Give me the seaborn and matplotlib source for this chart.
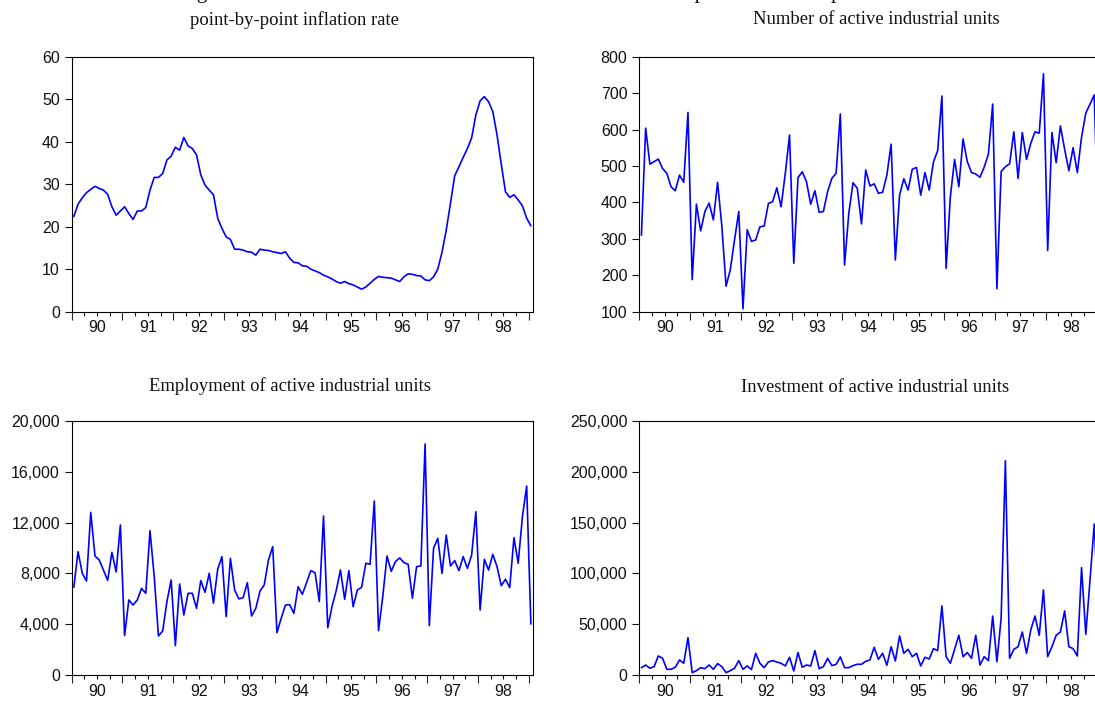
import numpy as np
import pandas as pd
import matplotlib
matplotlib.use("Agg")
import matplotlib.pyplot as plt
import seaborn as sns
from matplotlib.ticker import FixedLocator, FixedFormatter, FuncFormatter, NullFormatter

# Monthly observations, 1990M01 .. 1999M01
year_labels = ["90", "91", "92", "93", "94", "95", "96", "97", "98"]

inflation = [
    22.4, 25.3, 26.8, 28.0, 28.8, 29.5, 29.0, 28.6, 27.6, 24.7,
    22.7, 23.7, 24.7, 23.1, 21.7, 23.7, 23.7, 24.5, 28.6, 31.6,
    31.6, 32.5, 35.7, 36.6, 38.7, 38.0, 41.0, 39.0, 38.4, 36.9,
    32.2, 29.8, 28.6, 27.5, 22.0, 19.6, 17.6, 17.0, 14.7, 14.7,
    14.5, 14.1, 14.0, 13.3, 14.7, 14.5, 14.4, 14.1, 13.9, 13.7,
    14.1, 12.6, 11.6, 11.5, 10.8, 10.7, 10.0, 9.6, 9.2, 8.6,
    8.2, 7.7, 7.1, 6.7, 7.1, 6.6, 6.3, 5.8, 5.3, 5.8,
    6.7, 7.6, 8.3, 8.1, 8.0, 7.9, 7.5, 7.1, 8.2, 8.9,
    8.8, 8.5, 8.4, 7.5, 7.3, 8.2, 10.0, 14.0, 19.2, 25.5,
    32.0, 34.1, 36.3, 38.4, 40.9, 46.3, 49.6, 50.6, 49.4, 47.1,
    41.6, 34.7, 28.2, 26.9, 27.5, 26.3, 24.9, 22.0, 20.2,
]

active_units = [
    310, 604, 505, 512, 519, 493, 480, 443, 432, 475,
    455, 647, 188, 395, 322, 375, 398, 352, 455, 335,
    170, 215, 297, 375, 108, 325, 293, 297, 333, 335,
    397, 402, 440, 388, 480, 585, 233, 468, 484, 457,
    395, 432, 373, 375, 430, 466, 480, 643, 228, 370,
    454, 439, 341, 489, 445, 451, 425, 428, 475, 560,
    242, 420, 465, 434, 491, 496, 420, 482, 434, 511,
    542, 692, 219, 416, 518, 443, 574, 512, 482, 478,
    469, 497, 533, 670, 163, 485, 498, 506, 594, 466,
    592, 518, 562, 594, 590, 753, 268, 592, 509, 610,
    546, 487, 550, 482, 579, 645, 670, 695, 300,
]

employment = [
    6910, 9710, 8010, 7410, 12800, 9370, 9060, 8270, 7460, 9660,
    8120, 11810, 3120, 5920, 5520, 5920, 6830, 6440, 11360, 7750,
    3090, 3480, 5790, 7490, 2330, 7170, 4740, 6440, 6440, 5260,
    7440, 6520, 8010, 5660, 8330, 9320, 4610, 9190, 6700, 6000,
    6100, 7280, 4660, 5260, 6620, 7100, 9060, 10110, 3350, 4480,
    5520, 5550, 4870, 6960, 6360, 7280, 8220, 8060, 5790, 12510,
    3740, 5390, 6650, 8270, 5970, 8220, 5390, 6700, 6910, 8800,
    8720, 13690, 3510, 6180, 9370, 8170, 8930, 9220, 8850, 8720,
    6050, 8540, 8590, 18170, 3900, 9980, 10760, 8010, 11020, 8590,
    9010, 8220, 9320, 8400, 9450, 12850, 5130, 9110, 8270, 9500,
    8540, 7040, 7540, 6890, 10810, 8800, 12460, 14870, 4030,
]

investment = [
    7500, 10100, 6900, 8500, 19000, 16700, 5900, 5900, 7900, 15100,
    11800, 37000, 2600, 4600, 7500, 6500, 10100, 5900, 11500, 8500,
    2600, 4600, 6900, 14400, 5900, 9200, 5600, 21600, 11800, 7500,
    13100, 14400, 13100, 11800, 9200, 17700, 4300, 22300, 7900, 10100,
    9200, 24200, 6500, 8500, 16700, 9500, 10800, 18000, 7500, 7500,
    9500, 10800, 10800, 13700, 15100, 27500, 15700, 21600, 9800, 28100,
    14100, 38600, 21600, 25500, 18300, 21600, 9200, 17700, 16000, 26200,
    24200, 68100, 18300, 11800, 25500, 39300, 18300, 22300, 16700, 39300,
    10100, 18300, 14400, 58200, 13400, 56000, 210700, 16700, 25500, 28100,
    42500, 21600, 44500, 58200, 39300, 83800, 18300, 28100, 39300, 42500,
    63200, 28100, 26200, 19000, 105700, 40200, 93600, 148500, 60000,
]

titles = [
    "point-by-point inflation rate",
    "Number of active industrial units",
    "Employment of active industrial units",
    "Investment of active industrial units",
]

sns.set_style("ticks")
plt.rcParams["font.family"] = ["Liberation Sans", "DejaVu Sans"]

W, H = 1095, 701
fig = plt.figure(figsize=(W / 100, H / 100), dpi=100)


def box(left, top, right, bottom):
    return [left / W, 1 - bottom / H, (right - left) / W, (bottom - top) / H]


n = len(inflation)
months = pd.period_range("1990-01", periods=n, freq="M")
frame = pd.DataFrame({
    "t": np.arange(n),
    "month": months.astype(str),
    "inflation": inflation,
    "active_units": active_units,
    "employment": employment,
    "investment": investment,
})

panels = [
    ("inflation", box(71.7, 56.7, 533.0, 311.7), (0, 60, 10), (294, 20)),
    ("active_units", box(639.3, 56.7, 1100.6, 311.7), (100, 800, 100), (876, 20)),
    ("employment", box(71.7, 420.7, 533.0, 675.3), (0, 20000, 4000), (290, 386)),
    ("investment", box(639.3, 420.7, 1100.6, 675.3), (0, 250000, 50000), (875, 388)),
]

year_edges = np.arange(-0.5, n - 1, 12)
quarter_pos = [e + q for e in year_edges[:-1] for q in (3, 6, 9)]
quarter_lab = [lab for y in year_labels for lab in ("", y, "")]

for (col, rect, (lo, hi, step), (tx, ty)), title in zip(panels, titles):
    ax = fig.add_axes(rect)
    sns.lineplot(data=frame, x="t", y=col, ax=ax, color="#0000FF", linewidth=1.2)
    ax.set_xlim(-0.5, n - 0.5)
    ax.set_ylim(lo, hi)
    ax.set_xlabel("")
    ax.set_ylabel("")

    ax.yaxis.set_major_locator(FixedLocator(np.arange(lo, hi + step / 2, step)))
    ax.yaxis.set_major_formatter(FuncFormatter(lambda v, p: f"{v:,.0f}"))
    ax.tick_params(axis="y", length=5, width=0.8, pad=3.5, labelsize=11.5,
                   colors="#111111")

    ax.xaxis.set_major_locator(FixedLocator(year_edges))
    ax.xaxis.set_major_formatter(NullFormatter())
    ax.xaxis.set_minor_locator(FixedLocator(quarter_pos))
    ax.xaxis.set_minor_formatter(FixedFormatter(quarter_lab))
    ax.tick_params(axis="x", which="major", length=5.5, width=0.8)
    ax.tick_params(axis="x", which="minor", length=3, width=0.8, pad=3,
                   labelsize=11.5, colors="#111111")

    for s in ax.spines.values():
        s.set_visible(True)
        s.set_color("#000000")
        s.set_linewidth(0.8)
    ax.grid(False)

    fig.text(tx / W, 1 - ty / H, title, ha="center", va="center",
             family="Liberation Serif", fontsize=13.4, color="#111111")

# Overall caption above the panels
fig.text(179 / W, 1 + 1.8 / H,
         "Figure 1: Inflation rate and the active industrial units: a comparison of their production",
         ha="left", va="baseline", family="Liberation Serif", fontsize=15.4,
         color="#111111")

fig.savefig("out.png", dpi=100, facecolor="white")
